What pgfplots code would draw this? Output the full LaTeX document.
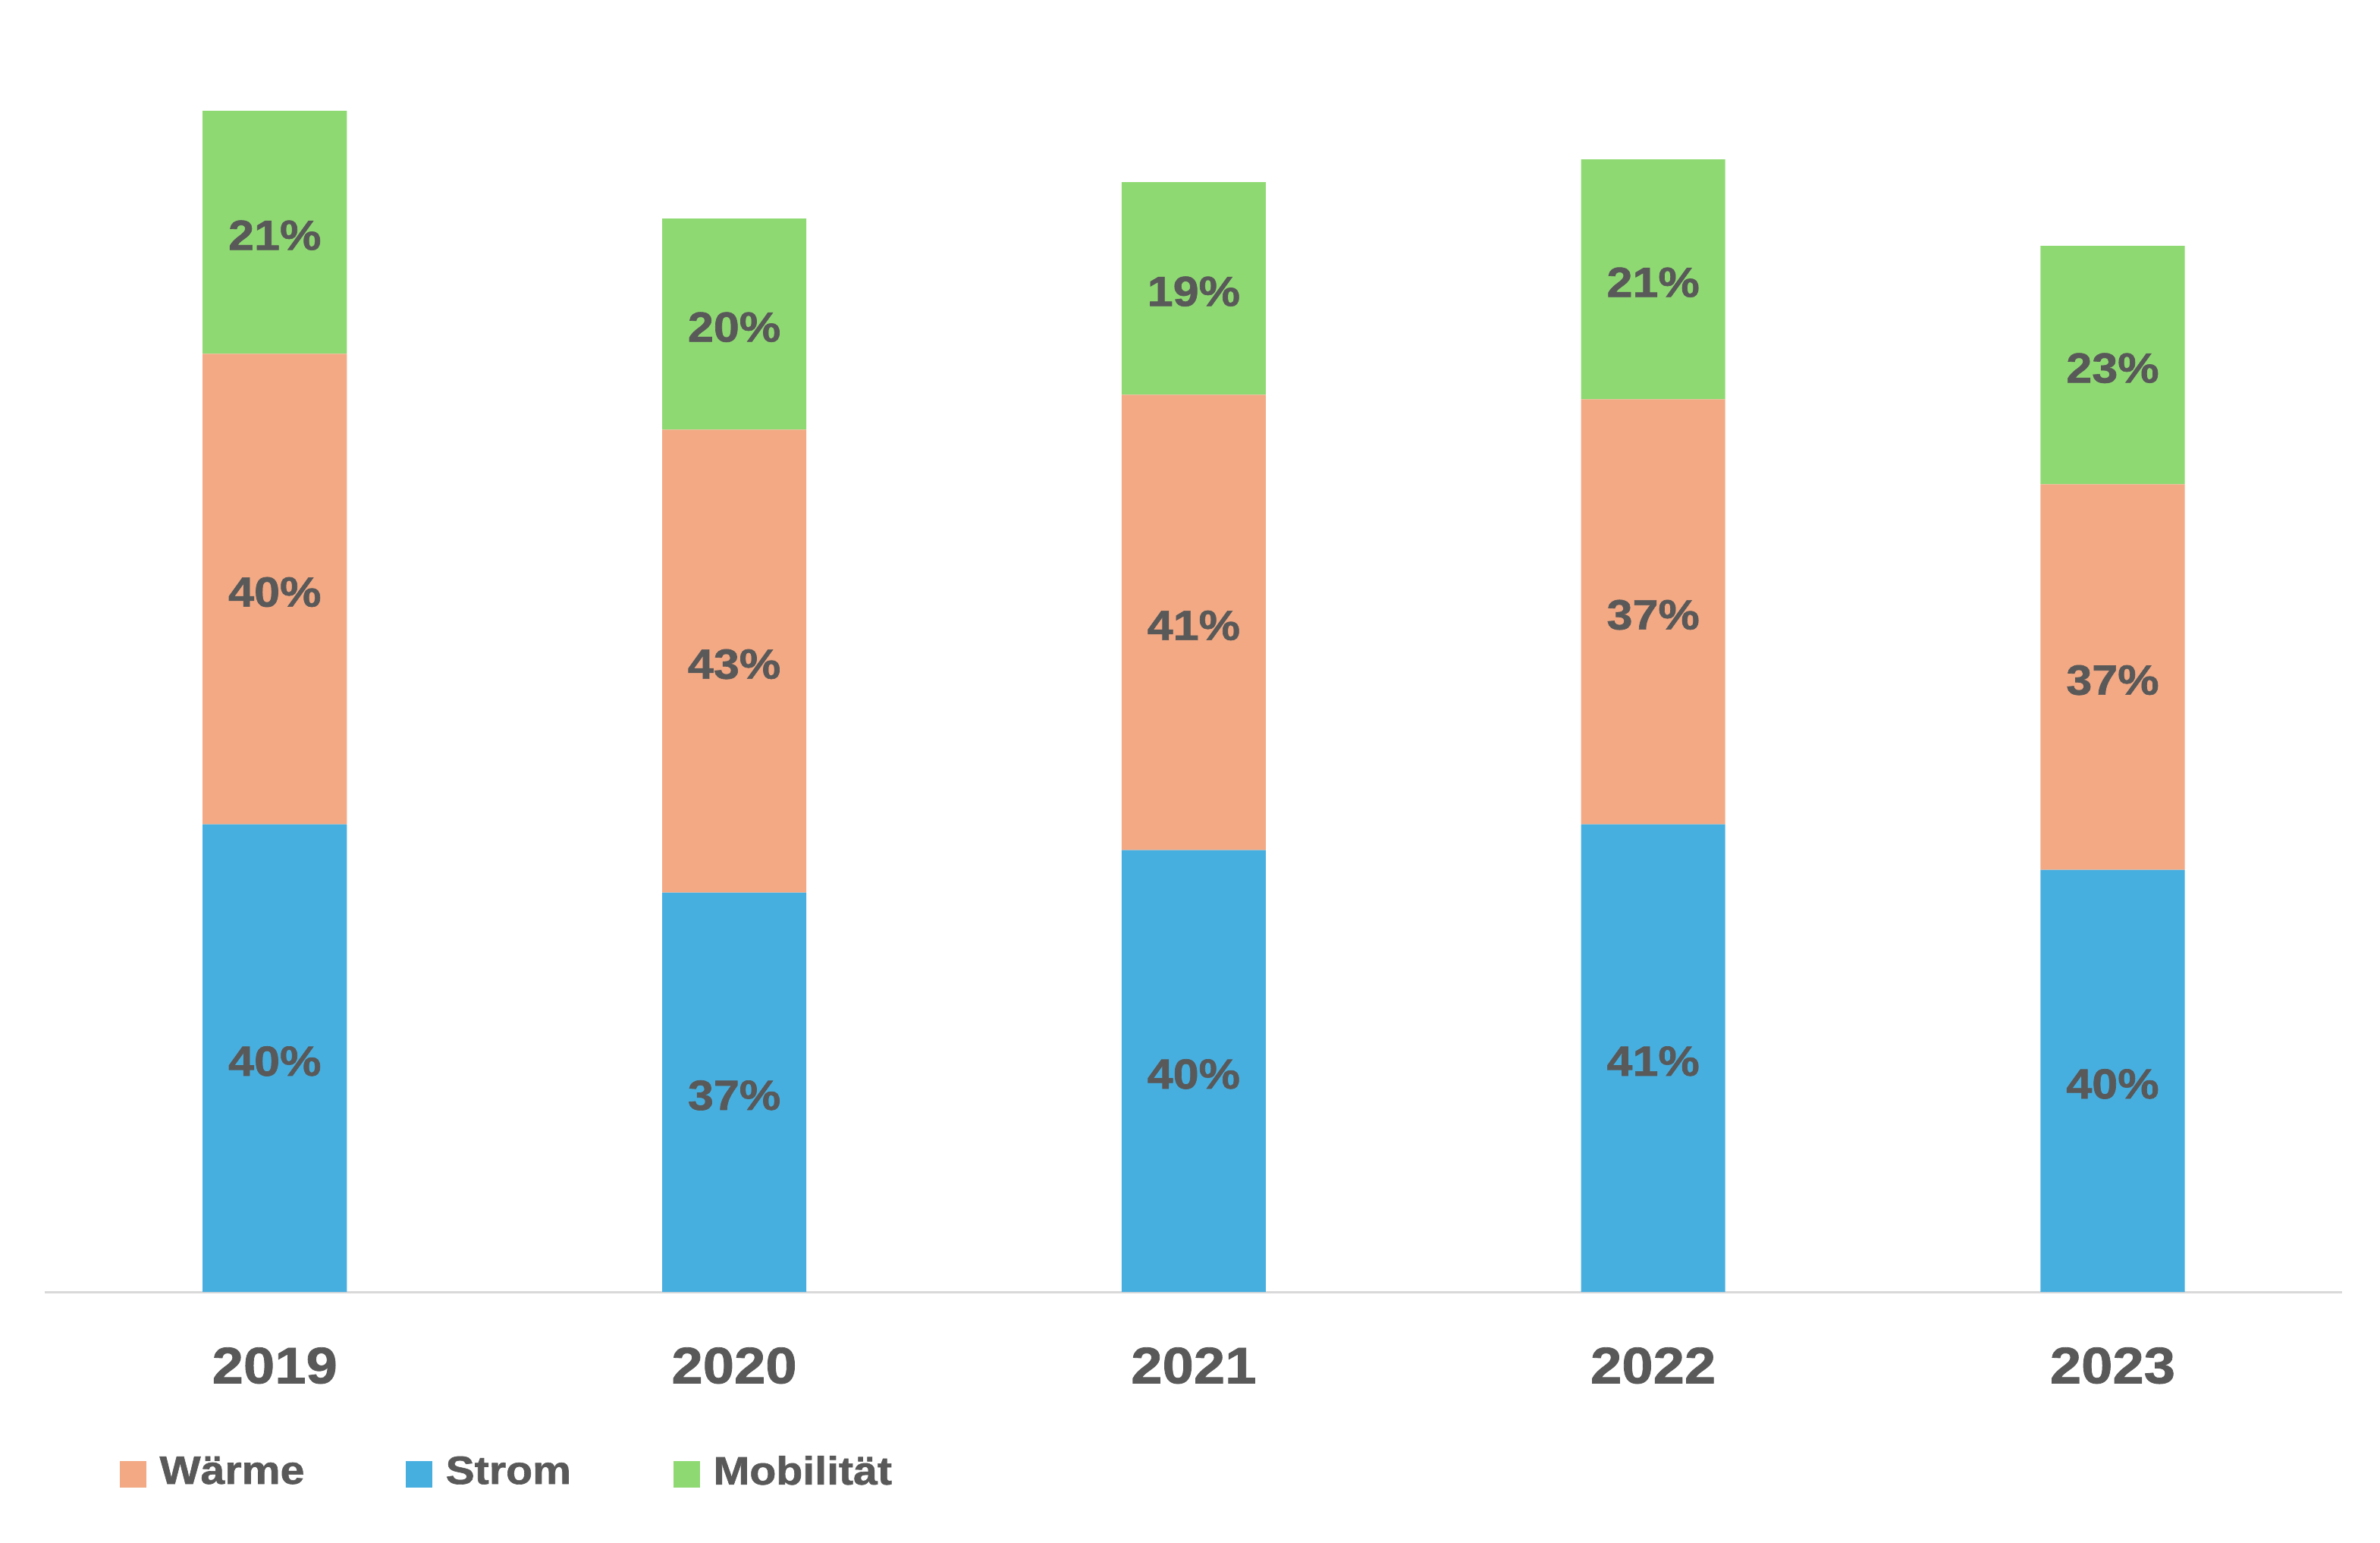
\documentclass[border=0pt]{standalone}
\usepackage{pgfplots}
\pgfplotsset{compat=1.18}
\usepackage{fontspec}
\setmainfont{Liberation Sans}
\newfontfamily\chartfont{Liberation Sans}[FakeStretch=1.1, FakeBold=1.2]
\definecolor{strom}{RGB}{71,175,224}
\definecolor{waerme}{RGB}{242,169,132}
\definecolor{mobil}{RGB}{143,217,115}
\definecolor{txtgray}{RGB}{89,89,89}
\definecolor{axgray}{RGB}{217,217,217}

\begin{document}
\begin{tikzpicture}
\begin{axis}[
    x=30.27mm, y=0.1mm,
    xmin=-0.5, xmax=4.5, ymin=0, ymax=851,
    axis y line=none, axis x line=bottom,
    x axis line style={-, draw=axgray, line width=0.4pt},
    xtick={0,...,4},
    xticklabels={2019,2020,2021,2022,2023},
    xtick style={draw=none},
    xticklabel style={anchor=center, yshift=-4.1mm, text=txtgray,
        font=\chartfont\bfseries\fontsize{9.6}{11}\selectfont},
    ytick=\empty,
    ybar stacked, bar width=9.5mm,
    clip=false,
    point meta=explicit symbolic,
    nodes near coords,
    every node near coord/.append style={anchor=center, yshift=-0.2mm,
        text=txtgray, font=\chartfont\bfseries\fontsize{7.9}{9}\selectfont},
    sq/.style={legend image code/.code={
        \fill[#1] (0mm,-0.8mm) rectangle (1.6mm,0.8mm);
        \path (2.5mm,0mm);}},
    legend columns=3,
    legend style={at={(axis cs:-0.34,-120)}, anchor=west, draw=none, fill=none,
        inner sep=0pt, nodes={inner sep=0pt, text=txtgray},
        font=\chartfont\bfseries\fontsize{7.4}{9}\selectfont},
]
% Strom
\addplot[fill=strom, draw=none, forget plot] coordinates {
    (0,308) [40\%] (1,263) [37\%] (2,291) [40\%] (3,308) [41\%] (4,278) [40\%]
};
% Waerme
\addplot[fill=waerme, draw=none, forget plot] coordinates {
    (0,310) [40\%] (1,305) [43\%] (2,300) [41\%] (3,280) [37\%] (4,254) [37\%]
};
% Mobilitaet
\addplot[fill=mobil, draw=none, forget plot] coordinates {
    (0,160) [21\%] (1,139) [20\%] (2,140) [19\%] (3,158) [21\%] (4,157) [23\%]
};
\addlegendimage{sq=waerme}
\addlegendentry{\makebox[16.2mm][l]{Wärme}}
\addlegendimage{sq=strom}
\addlegendentry{\makebox[15mm][l]{Strom}}
\addlegendimage{sq=mobil}
\addlegendentry{Mobilität}
\path (axis cs:-0.598,-165) rectangle (axis cs:4.582,851);
\end{axis}
\end{tikzpicture}
\end{document}
